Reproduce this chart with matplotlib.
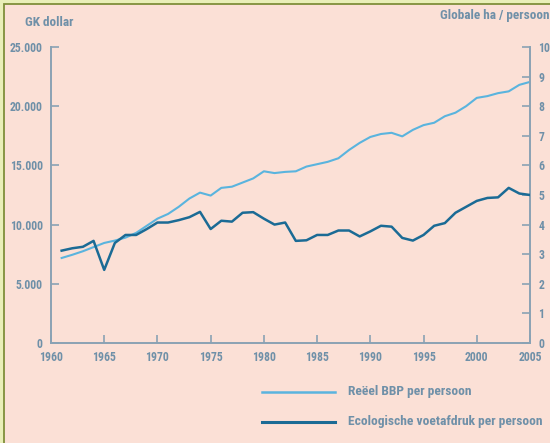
import numpy as np
import matplotlib.pyplot as plt
from matplotlib.patches import Rectangle
from matplotlib import font_manager

jaren = list(range(1961, 2006))
bbp = [7180, 7450, 7750, 8100, 8450, 8650, 8900, 9300, 9900, 10500,
       10900, 11500, 12200, 12700, 12450, 13100, 13200, 13550, 13900, 14500,
       14350, 14450, 14500, 14900, 15100, 15300, 15600, 16300, 16900, 17400,
       17650, 17750, 17450, 18000, 18400, 18600, 19150, 19450, 20000, 20700,
       20850, 21100, 21250, 21800, 22050]
voetafdruk = [3.12, 3.2, 3.25, 3.45, 2.47, 3.38, 3.65, 3.65, 3.85, 4.07,
              4.07, 4.15, 4.25, 4.43, 3.85, 4.13, 4.1, 4.4, 4.42, 4.2,
              4.0, 4.07, 3.45, 3.47, 3.65, 3.65, 3.8, 3.8, 3.6, 3.77,
              3.96, 3.93, 3.55, 3.46, 3.65, 3.96, 4.05, 4.4, 4.6, 4.8,
              4.9, 4.92, 5.24, 5.05, 5.0]

xticks = list(range(1960, 2006, 5))
yticks_l = [0, 5000, 10000, 15000, 20000, 25000]
ylabels_l = ['0', '5.000', '10.000', '15.000', '20.000', '25.000']
yticks_r = list(range(0, 11))

bg = '#fbe0d6'
tekst = '#6f90a8'
as_kleur = '#8aa2b4'
licht = '#5ab4de'
donker = '#1b6b95'

# smalle letter zoeken als die er is
namen = set(f.name for f in font_manager.fontManager.ttflist)
fam = ['DejaVu Sans']
for n in ['Roboto Condensed', 'Liberation Sans Narrow', 'Open Sans Condensed', 'Noto Sans Condensed']:
    if n in namen:
        fam = [n, 'DejaVu Sans']
        break
smal = {'family': fam, 'stretch': 'condensed', 'weight': 'bold'}

fig = plt.figure(figsize=(5.5, 4.43), dpi=100)
fig.patch.set_facecolor('#e9efb8')
# kader: alleen links en boven zichtbaar
fig.patches.append(Rectangle((4/550, -0.1), 1.2, 1.1 - 4/443, transform=fig.transFigure,
                             facecolor=bg, edgecolor='#7f8f3a', linewidth=1.3, zorder=-10))

ax = fig.add_axes([0.0927, 0.2257, 0.8709, 0.6683])
ax.set_facecolor('none')
ax.plot(jaren, bbp, color=licht, linewidth=1.5, zorder=3)
ax.set_xlim(1960, 2005)
ax.set_ylim(0, 25000)
ax.set_xticks(xticks)
ax.set_yticks(yticks_l)
ax.set_yticklabels(ylabels_l)

ax2 = ax.twinx()
ax2.plot(jaren, voetafdruk, color=donker, linewidth=1.8, zorder=3)
ax2.set_ylim(0, 10)
ax2.set_yticks(yticks_r)

for a in (ax, ax2):
    for s in a.spines.values():
        s.set_visible(False)
    a.tick_params(direction='in', length=6, width=1.2, color=as_kleur,
                  labelcolor=tekst, labelsize=8.5, pad=6)
    for lab in a.get_xticklabels() + a.get_yticklabels():
        lab.set_family(fam)
        lab.set_fontstretch('condensed')
        lab.set_fontweight('bold')
ax.spines['left'].set_visible(True)
ax.spines['bottom'].set_visible(True)
ax2.spines['right'].set_visible(True)
for s in (ax.spines['left'], ax.spines['bottom'], ax2.spines['right']):
    s.set_color(as_kleur)
    s.set_linewidth(1.4)

fig.text(25/550, 1 - 22/443, 'GK dollar', ha='left', va='center', color=tekst,
         fontsize=9.5, **smal)
fig.text(549/550, 1 - 16/443, 'Globale ha / persoon', ha='right', va='center',
         color=tekst, fontsize=9.5, **smal)

# legenda
fig.add_artist(plt.Line2D([262/550, 335/550], [1 - 392/443] * 2, color=licht, linewidth=1.8,
                          transform=fig.transFigure))
fig.add_artist(plt.Line2D([262/550, 335/550], [1 - 422/443] * 2, color=donker, linewidth=2.2,
                          transform=fig.transFigure))
fig.text(348/550, 1 - 392/443, 'Reëel BBP per persoon', ha='left', va='center',
         color=tekst, fontsize=9.7, **smal)
fig.text(348/550, 1 - 422/443, 'Ecologische voetafdruk per persoon', ha='left', va='center',
         color=tekst, fontsize=9.7, **smal)

fig.savefig('out.png', dpi=100, facecolor=fig.get_facecolor())
